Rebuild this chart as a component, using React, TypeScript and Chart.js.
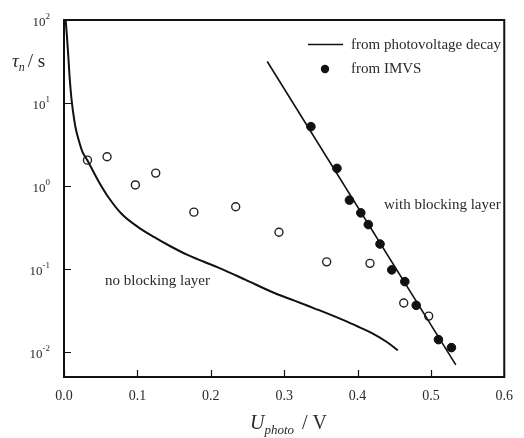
import React, { useEffect, useRef } from "react";
import { Chart, registerables } from "chart.js";

Chart.register(...registerables);

// Axis ticks
const xTicks = [0, 0.1, 0.2, 0.3, 0.4, 0.5, 0.6];
const yTickExponents = [-2, -1, 0, 1, 2];

// Photovoltage decay, no blocking layer (U / V, tau / s)
const decayNoBlockU = [0.0023, 0.004, 0.0059, 0.0076, 0.0099, 0.012, 0.0156, 0.02, 0.0253, 0.032, 0.0476, 0.061, 0.0787, 0.101, 0.123, 0.145, 0.1676, 0.19, 0.212, 0.2476, 0.2876, 0.314, 0.341, 0.3587, 0.381, 0.403, 0.421, 0.44, 0.455];
const decayNoBlockTau = [100, 63.5, 36.3, 20.8, 11.9, 8.27, 5.14, 3.58, 2.56, 2.03, 1.12, 0.723, 0.46, 0.32, 0.242, 0.188, 0.149, 0.123, 0.1026, 0.074, 0.051, 0.0416, 0.0336, 0.0292, 0.0242, 0.0198, 0.0167, 0.0132, 0.0105];

// Photovoltage decay, with blocking layer
const decayBlockU = [0.277, 0.534];
const decayBlockTau = [31.6, 0.007];

// IMVS, with blocking layer (filled)
const imvsBlockU = [0.3365, 0.372, 0.389, 0.4045, 0.4147, 0.4307, 0.4467, 0.4645, 0.48, 0.5103, 0.528];
const imvsBlockTau = [5.19, 1.63, 0.676, 0.475, 0.343, 0.2, 0.0977, 0.0705, 0.0365, 0.0141, 0.0113];

// IMVS, no blocking layer (open)
const imvsNoBlockU = [0.032, 0.0587, 0.0973, 0.125, 0.177, 0.234, 0.293, 0.358, 0.417, 0.463, 0.497];
const imvsNoBlockTau = [2.05, 2.25, 1.03, 1.43, 0.484, 0.563, 0.277, 0.122, 0.117, 0.039, 0.0271];

const FONT = "'Liberation Serif', 'Times New Roman', serif";
const INK = "#111";
const TEXT = "#2a2a2a";

const pts = (xs: number[], ys: number[]) => xs.map((x, i) => ({ x, y: ys[i] }));

const overlay = {
  id: "overlay",
  afterDraw(chart: any) {
    const { ctx, chartArea: a, scales } = chart;
    const xs = scales.x;
    const ys = scales.y;
    ctx.save();

    // frame
    ctx.strokeStyle = INK;
    ctx.lineWidth = 2;
    ctx.strokeRect(a.left, a.top, a.right - a.left, a.bottom - a.top);

    // inward ticks
    ctx.lineWidth = 1.2;
    ctx.beginPath();
    xTicks.forEach((v) => {
      const px = Math.round(xs.getPixelForValue(v)) + 0.5;
      ctx.moveTo(px, a.bottom);
      ctx.lineTo(px, a.bottom - 7);
    });
    yTickExponents.forEach((e) => {
      const py = Math.round(ys.getPixelForValue(Math.pow(10, e))) + 0.5;
      ctx.moveTo(a.left, py);
      ctx.lineTo(a.left + 7, py);
    });
    ctx.stroke();

    // y tick labels 10^n
    ctx.fillStyle = TEXT;
    yTickExponents.forEach((e) => {
      const py = ys.getPixelForValue(Math.pow(10, e));
      const sup = String(e);
      ctx.font = `9px ${FONT}`;
      const supW = ctx.measureText(sup).width;
      const right = a.left - 14;
      ctx.textAlign = "left";
      ctx.textBaseline = "alphabetic";
      ctx.fillText(sup, right - supW, py - 1);
      ctx.font = `13px ${FONT}`;
      ctx.textAlign = "right";
      ctx.fillText("10", right - supW, py + 6);
    });

    // y axis title: tau_n / s
    ctx.textAlign = "left";
    ctx.textBaseline = "alphabetic";
    let x = 12;
    const yb = 67;
    ctx.font = `italic 19px ${FONT}`;
    ctx.fillText("\u03c4", x, yb);
    x += ctx.measureText("\u03c4").width;
    ctx.font = `italic 12px ${FONT}`;
    ctx.fillText("n", x, yb + 4);
    x += ctx.measureText("n").width + 3;
    ctx.font = `19px ${FONT}`;
    ctx.fillText("/ s", x, yb);

    // x axis title: U_photo / V
    let ux = 250;
    const ub = 429;
    ctx.font = `italic 20px ${FONT}`;
    ctx.fillText("U", ux, ub);
    ux += ctx.measureText("U").width;
    ctx.font = `italic 13px ${FONT}`;
    ctx.fillText("photo", ux, ub + 5);
    ux += ctx.measureText("photo").width + 8;
    ctx.font = `20px ${FONT}`;
    ctx.fillText("/ V", ux, ub);

    // legend
    ctx.strokeStyle = INK;
    ctx.lineWidth = 1.5;
    ctx.beginPath();
    ctx.moveTo(308, 44.5);
    ctx.lineTo(343, 44.5);
    ctx.stroke();
    ctx.fillStyle = INK;
    ctx.beginPath();
    ctx.arc(325, 69, 4.2, 0, Math.PI * 2);
    ctx.fill();
    ctx.fillStyle = TEXT;
    ctx.font = `15px ${FONT}`;
    ctx.textBaseline = "middle";
    ctx.fillText("from photovoltage decay", 351, 45);
    ctx.fillText("from IMVS", 351, 69);

    // curve labels
    ctx.fillText("with blocking layer", 384, 205);
    ctx.fillText("no blocking layer", 105, 281);

    ctx.restore();
  },
};

export default function App() {
  const ref = useRef<HTMLCanvasElement | null>(null);

  useEffect(() => {
    if (!ref.current) return;
    const chart = new Chart(ref.current, {
      type: "scatter",
      data: {
        datasets: [
          {
            label: "decay no blocking",
            data: pts(decayNoBlockU, decayNoBlockTau),
            showLine: true,
            borderColor: INK,
            borderWidth: 2,
            pointRadius: 0,
            cubicInterpolationMode: "monotone",
          },
          {
            label: "decay blocking",
            data: pts(decayBlockU, decayBlockTau),
            showLine: true,
            borderColor: INK,
            borderWidth: 1.6,
            pointRadius: 0,
          },
          {
            label: "IMVS blocking",
            data: pts(imvsBlockU, imvsBlockTau),
            showLine: false,
            pointRadius: 4.3,
            pointBackgroundColor: INK,
            pointBorderColor: INK,
            pointBorderWidth: 1,
          },
          {
            label: "IMVS no blocking",
            data: pts(imvsNoBlockU, imvsNoBlockTau),
            showLine: false,
            pointRadius: 4,
            pointBackgroundColor: "#fff",
            pointBorderColor: "#222",
            pointBorderWidth: 1.4,
          },
        ],
      } as any,
      options: {
        responsive: false,
        animation: false,
        events: [],
        layout: { padding: { top: 20, right: 11, left: 0, bottom: 0 } },
        plugins: { legend: { display: false }, tooltip: { enabled: false } },
        scales: {
          x: {
            type: "linear",
            min: 0,
            max: 0.6,
            grid: { display: false, drawTicks: false },
            border: { display: false },
            afterBuildTicks: (s: any) => {
              s.ticks = xTicks.map((v) => ({ value: v }));
            },
            afterFit: (s: any) => {
              s.height = 61;
            },
            ticks: {
              padding: 11,
              color: TEXT,
              font: { family: FONT, size: 14 },
              callback: (v: any) => Number(v).toFixed(1),
            },
          },
          y: {
            type: "logarithmic",
            min: 0.005,
            max: 100,
            grid: { display: false, drawTicks: false },
            border: { display: false },
            afterBuildTicks: (s: any) => {
              s.ticks = yTickExponents.map((e) => ({ value: Math.pow(10, e) }));
            },
            afterFit: (s: any) => {
              s.width = 64;
            },
            ticks: { display: false },
          },
        },
      } as any,
      plugins: [overlay],
    });
    return () => chart.destroy();
  }, []);

  return (
    <div style={{ position: "fixed", left: 0, top: 0, width: 524, height: 438, background: "#fff" }}>
      <canvas ref={ref} width={524} height={438} />
    </div>
  );
}
